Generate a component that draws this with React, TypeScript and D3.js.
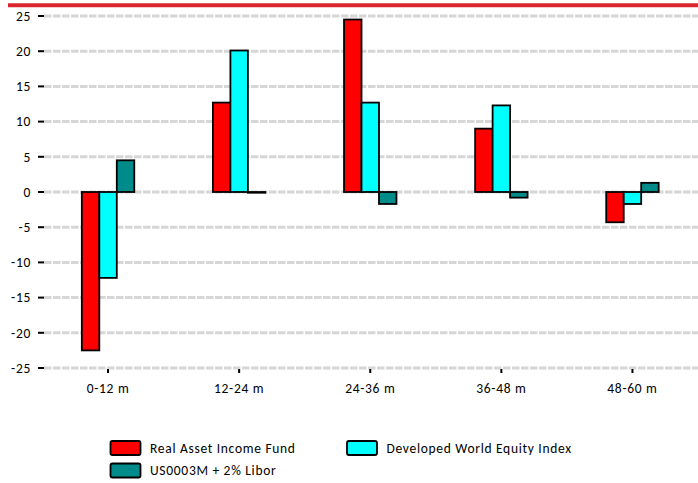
import React from "react";
import * as d3 from "d3";

const categories = ["0-12 m", "12-24 m", "24-36 m", "36-48 m", "48-60 m"];
const seriesNames = ["Real Asset Income Fund", "Developed World Equity Index", "US0003M + 2% Libor"];
const realAsset = [-22.5, 12.7, 24.5, 9.0, -4.3];
const devWorld = [-12.2, 20.1, 12.7, 12.3, -1.7];
const libor = [4.5, -0.1, -1.7, -0.8, 1.3];
const seriesColors = ["#ff0000", "#00ffff", "#008b8b"];
const yTicks = [25, 20, 15, 10, 5, 0, -5, -10, -15, -20, -25];

const W = 698;
const H = 483;
const FONT = "Carlito, Lato, 'Open Sans', sans-serif";

export default function App() {
  const series = [realAsset, devWorld, libor];
  const x = d3.scaleBand<string>().domain(categories).range([42.5, 698]).paddingInner(0).paddingOuter(0);
  const groupW = x.bandwidth() * 0.4;
  const xs = d3.scaleBand<number>().domain([0, 1, 2]).range([0, groupW]);
  const y = d3.scaleLinear().domain([-25, 25]).range([368, 16]);

  return (
    <svg width={W} height={H} style={{ position: "absolute", left: 0, top: 0, background: "#fff" }} fontFamily={FONT} letterSpacing={0.7}>
      <line x1={8} x2={698} y1={5.3} y2={5.3} stroke="#d9262f" strokeWidth={4} />
      {yTicks.map((t) => (
        <g key={t}>
          <line x1={44} x2={698} y1={y(t)} y2={y(t)} stroke="#d6d6d6" strokeWidth={3} strokeDasharray="7.5,1.5" />
          <line x1={38} x2={44} y1={y(t)} y2={y(t)} stroke="#000" strokeWidth={2} />
          <text x={31} y={y(t)} dy="0.35em" textAnchor="end" fontSize={13.5} fill="#000">
            {t}
          </text>
        </g>
      ))}
      {categories.map((c) => {
        const cx = x(c)! + x.bandwidth() / 2;
        return (
          <g key={c}>
            <line x1={cx} x2={cx} y1={369} y2={373} stroke="#000" strokeWidth={2} />
            <text x={cx} y={388} dy="0.35em" textAnchor="middle" fontSize={13.5} fill="#000">
              {c}
            </text>
          </g>
        );
      })}
      {series.map((vals, si) =>
        vals.map((v, i) => {
          const cx = x(categories[i])! + x.bandwidth() / 2;
          const bx = cx - groupW / 2 + xs(si)!;
          const y0 = y(0);
          const y1 = y(v);
          return (
            <rect
              key={`${si}-${i}`}
              x={bx}
              y={Math.min(y0, y1)}
              width={xs.bandwidth()}
              height={Math.max(Math.abs(y1 - y0), 0.5)}
              fill={seriesColors[si]}
              stroke="#000"
              strokeWidth={1.8}
            />
          );
        })
      )}
      {seriesNames.map((n, i) => {
        const lx = i === 1 ? 347 : 110.5;
        const ly = i === 2 ? 463.5 : 441;
        return (
          <g key={n}>
            <rect x={lx} y={ly} width={30} height={14} rx={2} fill={seriesColors[i]} stroke="#000" strokeWidth={1.8} />
            <text x={lx + 39.5} y={ly + 7} dy="0.35em" fontSize={13.5} fill="#000">
              {n}
            </text>
          </g>
        );
      })}
    </svg>
  );
}
